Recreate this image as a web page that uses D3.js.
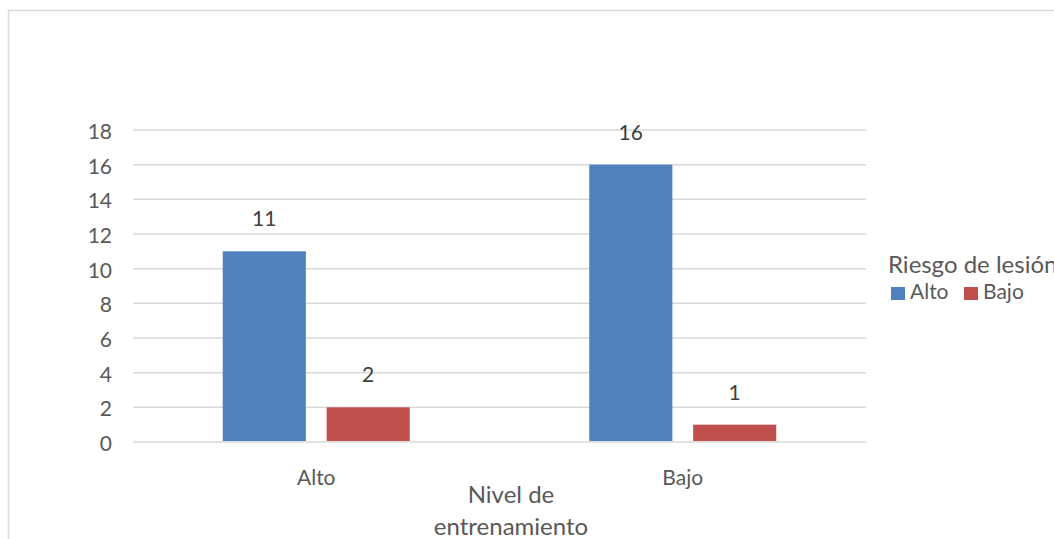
<!DOCTYPE html>
<html>
<head>
<meta charset="utf-8">
<script src="https://cdn.jsdelivr.net/npm/d3@7"></script>
<style>
  body { margin: 0; background: #fff; overflow: hidden; }
  svg text { font-family: Lato, "Open Sans", sans-serif; }
</style>
</head>
<body>
<svg id="chart" width="1054" height="539"></svg>
<script>
// datos
var categories = ['Alto', 'Bajo'];
var series = ['Alto', 'Bajo'];
var altoValues = [11, 16];
var bajoValues = [2, 1];
var yTicks = [0, 2, 4, 6, 8, 10, 12, 14, 16, 18];
var colors = ['#4F81BD', '#C0504D'];

var svg = d3.select('#chart');

// marco del area del grafico (se sale por la derecha y abajo)
svg.append('rect')
    .attr('x', 8.5).attr('y', 10.5)
    .attr('width', 1200).attr('height', 600)
    .attr('fill', 'none')
    .attr('stroke', '#d9d9d9')
    .attr('stroke-width', 1.5);

var plotLeft = 133, plotRight = 866, plotTop = 130, plotBottom = 442;

var x0 = d3.scaleBand().domain(categories).range([plotLeft, plotRight]);
var x1 = d3.scaleBand().domain(series).range([0, 187]).paddingInner(0.2);
var y = d3.scaleLinear().domain([0, 18]).range([plotBottom, plotTop]);

// lineas de cuadricula
svg.append('g').selectAll('line')
    .data(yTicks)
    .enter().append('line')
    .attr('x1', plotLeft).attr('x2', plotRight)
    .attr('y1', function(d){ return y(d); })
    .attr('y2', function(d){ return y(d); })
    .attr('stroke', '#d9d9d9')
    .attr('stroke-width', 1.5);

// eje y
var yAxis = svg.append('g')
    .attr('transform', 'translate(' + (plotLeft - 21) + ',0)')
    .call(d3.axisLeft(y).tickValues(yTicks).tickSize(0).tickPadding(0));
yAxis.select('.domain').remove();
yAxis.selectAll('text')
    .attr('dy', '0.4em')
    .attr('fill', '#595959')
    .style('font-size', '21px');

var rows = categories.map(function(c, i){
    return { cat: c, vals: [altoValues[i], bajoValues[i]] };
});

var groups = svg.append('g').selectAll('g')
    .data(rows)
    .enter().append('g')
    .attr('transform', function(d){ return 'translate(' + (x0(d.cat) + x0.bandwidth() / 2 - 93.5) + ',0)'; });

groups.selectAll('rect')
    .data(function(d){ return d.vals.map(function(v, j){ return { s: series[j], v: v, j: j }; }); })
    .enter().append('rect')
    .attr('x', function(d){ return x1(d.s); })
    .attr('width', x1.bandwidth())
    .attr('y', function(d){ return y(d.v); })
    .attr('height', function(d){ return y(0) - y(d.v) - 1; })
    .attr('fill', function(d){ return colors[d.j]; });

// etiquetas de datos
groups.selectAll('text.lbl')
    .data(function(d){ return d.vals.map(function(v, j){ return { s: series[j], v: v }; }); })
    .enter().append('text')
    .attr('class', 'lbl')
    .attr('x', function(d){ return x1(d.s) + x1.bandwidth() / 2; })
    .attr('y', function(d){ return y(d.v) - 25; })
    .attr('text-anchor', 'middle')
    .attr('fill', '#404040')
    .style('font-size', '21px')
    .text(function(d){ return d.v; });

// eje x
var xAxis = svg.append('g')
    .attr('transform', 'translate(0,' + (plotBottom + 27) + ')')
    .call(d3.axisBottom(x0).tickSize(0).tickPadding(0));
xAxis.select('.domain').remove();
xAxis.selectAll('text')
    .attr('dy', '0.75em')
    .attr('fill', '#595959')
    .style('font-size', '21px');

// titulo del eje x
var xt = svg.append('text')
    .attr('text-anchor', 'middle')
    .attr('fill', '#595959')
    .style('font-size', '24px');
xt.append('tspan').attr('x', 511).attr('y', 503).text('Nivel de');
xt.append('tspan').attr('x', 511).attr('y', 535).text('entrenamiento');

// leyenda (el titulo queda cortado en el borde, como en el original)
svg.append('text')
    .attr('x', 888).attr('y', 273)
    .attr('fill', '#595959')
    .style('font-size', '24px')
    .text('Riesgo de lesión');

var leg = svg.append('g').selectAll('g')
    .data(series)
    .enter().append('g')
    .attr('transform', function(d, i){ return 'translate(' + (891 + i * 73) + ',287)'; });
leg.append('rect')
    .attr('width', 14).attr('height', 13)
    .attr('fill', function(d, i){ return colors[i]; });
leg.append('text')
    .attr('x', 19).attr('y', 12)
    .attr('fill', '#595959')
    .style('font-size', '21px')
    .text(function(d){ return d; });
</script>
</body>
</html>
